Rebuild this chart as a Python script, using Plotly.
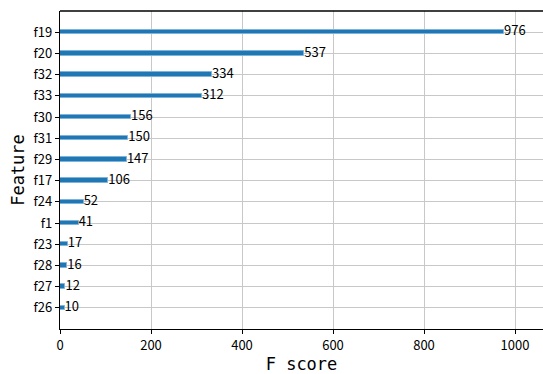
import plotly.graph_objects as go

# Feature importance (F score), listed bottom to top
features = ["f26", "f27", "f28", "f23", "f1", "f24", "f17", "f29", "f31", "f30", "f33", "f32", "f20", "f19"]
scores = [10, 12, 16, 17, 41, 52, 106, 147, 150, 156, 312, 334, 537, 976]

x_ticks = [0, 200, 400, 600, 800, 1000]

font_family = "Noto Sans CJK SC, DejaVu Sans, sans-serif"
title_family = "DejaVu Sans Mono, Liberation Mono, monospace"

fig = go.Figure()
fig.add_trace(go.Bar(
    x=scores, y=features, orientation="h", width=0.2,
    marker=dict(color="#1f77b4", line=dict(color="#7fb3da", width=1)),
    showlegend=False, hoverinfo="x+y",
))
fig.add_trace(go.Scatter(
    x=scores, y=features, mode="text",
    text=[str(s) for s in scores], textposition="middle right",
    textfont=dict(size=13, color="black", family=font_family),
    showlegend=False, hoverinfo="skip", cliponaxis=False,
))

# top spine
fig.add_shape(type="line", xref="paper", yref="paper", x0=0, x1=1, y0=1, y1=1,
              line=dict(color="black", width=1.3), layer="above")

fig.update_layout(
    width=543, height=374,
    margin=dict(l=60, r=0, t=11, b=45),
    plot_bgcolor="white", paper_bgcolor="white",
    font=dict(family=font_family, size=13, color="black"),
    bargap=0,
)
fig.update_xaxes(
    range=[0, 1061.5], tickvals=x_ticks,
    showgrid=True, gridcolor="#c8c8c8", gridwidth=1,
    showline=True, linecolor="black", linewidth=1.3,
    ticks="outside", ticklen=4, tickcolor="black",
    zeroline=False,
    title=dict(text="F score", font=dict(size=17, family=title_family), standoff=4),
    tickfont=dict(size=13),
)
fig.update_yaxes(
    type="category", categoryorder="array", categoryarray=features,
    range=[-1, 14],
    showgrid=True, gridcolor="#c8c8c8", gridwidth=1,
    showline=True, linecolor="black", linewidth=1.3,
    ticks="outside", ticklen=4, tickcolor="black",
    title=dict(text="Feature", font=dict(size=17, family=title_family), standoff=4),
    tickfont=dict(size=13),
)

fig.write_html("out.html")
